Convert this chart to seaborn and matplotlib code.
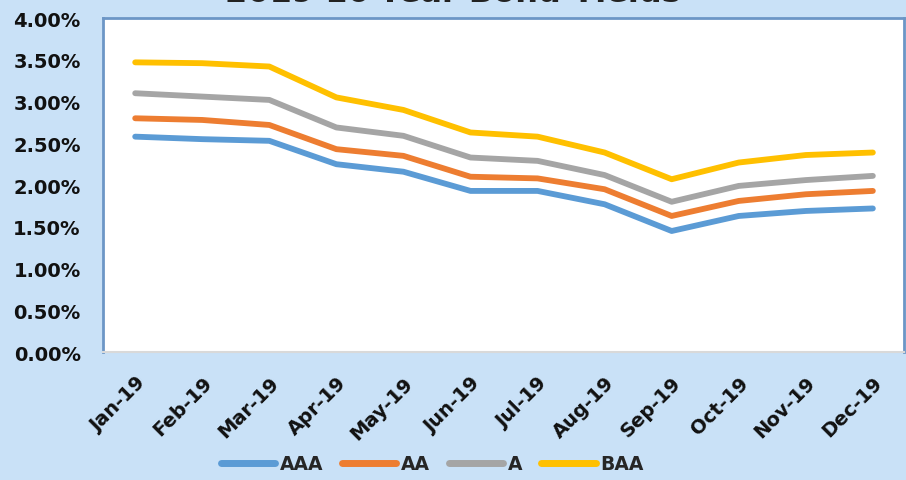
import pandas as pd
import matplotlib.pyplot as plt
import seaborn as sns

# data (yields in %)
months = ["Jan-19", "Feb-19", "Mar-19", "Apr-19", "May-19", "Jun-19",
          "Jul-19", "Aug-19", "Sep-19", "Oct-19", "Nov-19", "Dec-19"]
aaa = [2.58, 2.55, 2.53, 2.25, 2.16, 1.93, 1.93, 1.77, 1.45, 1.63, 1.69, 1.72]
aa = [2.80, 2.78, 2.72, 2.43, 2.35, 2.10, 2.08, 1.95, 1.63, 1.81, 1.89, 1.93]
a = [3.10, 3.06, 3.02, 2.69, 2.59, 2.33, 2.29, 2.12, 1.80, 1.99, 2.06, 2.11]
baa = [3.47, 3.46, 3.42, 3.05, 2.90, 2.63, 2.58, 2.39, 2.07, 2.27, 2.36, 2.39]
ratings = ["AAA", "AA", "A", "BAA"]
colors = ["#5b9bd5", "#ed7d31", "#a5a5a5", "#ffc000"]
yticks = [0, 0.5, 1.0, 1.5, 2.0, 2.5, 3.0, 3.5, 4.0]

rows = []
for name, vals in zip(ratings, [aaa, aa, a, baa]):
    for i, v in enumerate(vals):
        rows.append({"idx": i, "month": months[i], "rating": name, "yield": v})
df = pd.DataFrame(rows)

sns.set_style("white")
plt.rcParams["font.family"] = ["DejaVu Sans"]

bg = "#c9e1f7"
fig = plt.figure(figsize=(9.06, 4.81), dpi=100, facecolor=bg)
ax = fig.add_axes([0.1137, 0.266, 0.8845, 0.6943])
ax.set_facecolor("white")

sns.lineplot(data=df, x="idx", y="yield", hue="rating", hue_order=ratings,
             palette=colors, linewidth=4.2, ax=ax, legend=False,
             solid_capstyle="round", solid_joinstyle="round")

ax.set_xlim(-0.48, 11.47)
ax.set_ylim(0, 4.0)
ax.set_xticks(range(len(months)))
ax.set_xticklabels(months, rotation=45, ha="right", rotation_mode="anchor",
                   fontsize=14, fontweight="bold", color="#111111")
ax.set_yticks(yticks)
ax.set_yticklabels([f"{v:.2f}%" for v in yticks], fontsize=14,
                   fontweight="bold", color="#111111")
ax.tick_params(axis="y", pad=16, length=0)
ax.tick_params(axis="x", pad=15, length=0)
ax.set_xlabel("")
ax.set_ylabel("")

for side in ["left", "top", "right"]:
    ax.spines[side].set_color("#6c96c6")
    ax.spines[side].set_linewidth(2)
ax.spines["bottom"].set_color("#d9d9d9")
ax.spines["bottom"].set_linewidth(1.5)

# title is cut off at the top of the picture
fig.text(0.5, 1 - 1.5 / 481, "2019 10-Year Bond Yields", ha="center",
         va="baseline", fontsize=23, fontweight="bold", color="#222222")

handles = [plt.Line2D([], [], color=c, linewidth=5, solid_capstyle="round")
           for c in colors]
fig.legend(handles, ratings, loc="center", bbox_to_anchor=(0.477, 0.034),
           ncol=4, frameon=False, handlelength=2.9, handletextpad=0.25,
           columnspacing=1.0, prop={"size": 13.5, "weight": "bold"})

fig.savefig("out.png", dpi=100, facecolor=bg)
